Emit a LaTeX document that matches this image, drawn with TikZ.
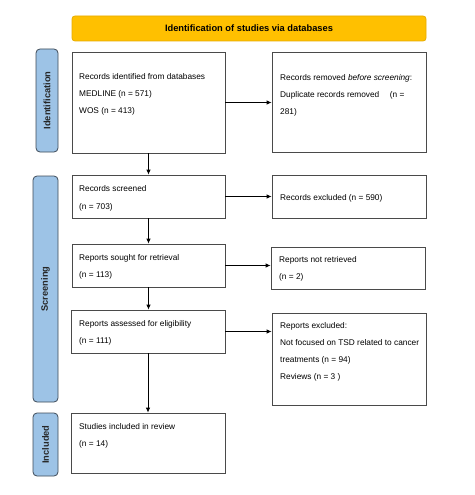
\documentclass[tikz,border=0pt]{standalone}
\usepackage{fontspec}
\setmainfont{Liberation Sans}
\usetikzlibrary{arrows.meta}
\definecolor{hdrfill}{HTML}{FFC000}
\definecolor{hdrdraw}{HTML}{E6AC00}
\definecolor{barfill}{HTML}{9DC3E6}
\definecolor{bardraw}{HTML}{3F4B58}
\definecolor{boxdraw}{HTML}{4A4A4A}
\begin{document}
\begin{tikzpicture}[x=1pt,y=-1pt,
  box/.style={draw=boxdraw,line width=0.8pt,fill=white,inner sep=0pt},
  bar/.style={draw=bardraw,line width=0.8pt,fill=barfill,rounded corners=4pt,inner sep=0pt},
  txt/.style={anchor=north west,inner sep=0pt,align=left,font=\fontsize{8.3}{17}\selectfont},
  vlab/.style={rotate=90,font=\fontsize{9.3}{11}\selectfont\bfseries,text=black!85},
  flow/.style={draw=black,line width=0.8pt,-{Latex[length=5pt,width=4.5pt]}}]
\useasboundingbox (0,0) rectangle (474,495);
\fill[white] (0,0) rectangle (474,495);
% header
\node[draw=hdrdraw,line width=0.8pt,fill=hdrfill,rounded corners=3pt,minimum width=354pt,minimum height=25pt,inner sep=0pt,font=\fontsize{9.3}{11}\selectfont\bfseries] (hdr) at (249,28.5) {Identification of studies via databases};
% side bars
\node[bar,minimum width=22pt,minimum height=103pt] (idbar) at (47,100.5) {};
\node[vlab] (idlab) at (idbar.center) {Identification};
\node[bar,minimum width=25pt,minimum height=226pt] (scbar) at (45.5,289) {};
\node[vlab] (sclab) at (scbar.center) {Screening};
\node[bar,minimum width=25pt,minimum height=63pt] (inbar) at (45.5,444.5) {};
\node[vlab] (inlab) at (inbar.center) {Included};
% boxes
\node[box,minimum width=153pt,minimum height=101pt] (b1) at (148.5,102.5) {};
\node[box,minimum width=154pt,minimum height=100pt] (b2) at (349,102) {};
\node[box,minimum width=153pt,minimum height=43pt] (scr) at (148.5,196.5) {};
\node[box,minimum width=154pt,minimum height=43pt] (ex1) at (349,196.5) {};
\node[box,minimum width=153pt,minimum height=43pt] (sou) at (148.5,265.5) {};
\node[box,minimum width=154pt,minimum height=42pt] (nre) at (348,268) {};
\node[box,minimum width=154pt,minimum height=43pt] (ass) at (148,331.5) {};
\node[box,minimum width=154pt,minimum height=92pt] (ex2) at (349,359) {};
\node[box,minimum width=154pt,minimum height=60pt] (inc) at (148,443) {};
% texts
\node[txt] (t1) at (79,73) {Records identified from databases\\MEDLINE (n = 571)\\WOS (n = 413)};
\node[txt] (t2) at (280,74) {Records removed \textit{before screening}:\\Duplicate records removed\quad\ (n =\\281)};
\node[txt] (t3) at (79,185) {Records screened\\[1pt](n = 703)};
\node[txt] (t4) at (280,194) {Records excluded (n = 590)};
\node[txt] (t5) at (79,254) {Reports sought for retrieval\\(n = 113)};
\node[txt] (t6) at (279,256) {Reports not retrieved\\(n = 2)};
\node[txt] (t7) at (79,320) {Reports assessed for eligibility\\(n = 111)};
\node[txt] (t8) at (280,322) {Reports excluded:\\Not focused on TSD related to cancer\\treatments (n = 94)\\Reviews (n = 3 )};
\node[txt] (t9) at (79,423) {Studies included in review\\(n = 14)};
% connectors
\draw[flow] (b1.east) -- (b1.east -| b2.west);
\draw[flow] (b1.south) -- (b1.south |- scr.north);
\draw[flow] (scr.east) -- (scr.east -| ex1.west);
\draw[flow] (scr.south) -- (scr.south |- sou.north);
\draw[flow] (sou.east) -- (sou.east -| nre.west);
\draw[flow] (sou.south) -- (sou.south |- ass.north);
\draw[flow] (ass.east) -- (ass.east -| ex2.west);
\draw[flow] (ass.south) -- (ass.south |- inc.north);
\end{tikzpicture}
\end{document}
